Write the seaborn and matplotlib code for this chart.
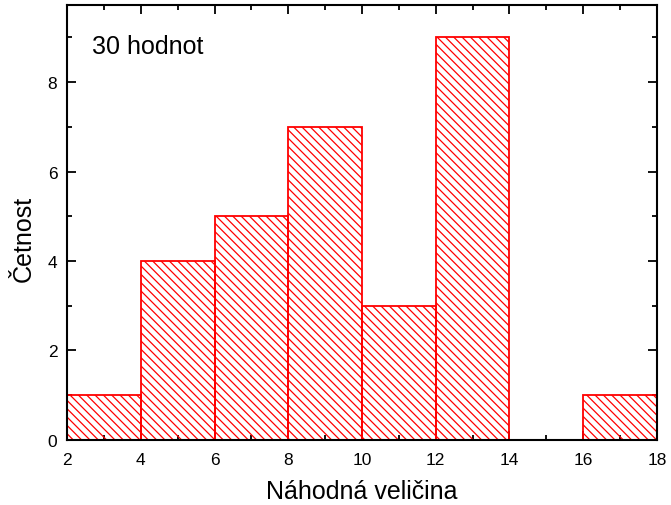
import numpy as np
import matplotlib
matplotlib.use("Agg")
import matplotlib.pyplot as plt
import seaborn as sns
from matplotlib.ticker import MultipleLocator

bin_edges = [2, 4, 6, 8, 10, 12, 14, 16, 18]
bin_centers = [3, 5, 7, 9, 11, 13, 15, 17]
counts = [1, 4, 5, 7, 3, 9, 0, 1]

sns.set_style("ticks")
plt.rcParams["font.family"] = ["Liberation Sans", "DejaVu Sans"]
plt.rcParams["hatch.linewidth"] = 0.9
plt.rcParams["hatch.color"] = "red"
plt.rcParams["text.color"] = "black"
plt.rcParams["axes.labelcolor"] = "black"

fig = plt.figure(figsize=(6.71, 5.06), dpi=100)
ax = fig.add_axes([0.0999, 0.1285, 0.8792, 0.8595])

sns.histplot(x=bin_centers, weights=counts, bins=bin_edges, ax=ax,
             facecolor="none", edgecolor="red", linewidth=1.3,
             hatch="\\\\\\\\")

ax.set_xlim(2, 18)
ax.set_ylim(0, 9.72)
ax.xaxis.set_major_locator(MultipleLocator(2))
ax.xaxis.set_minor_locator(MultipleLocator(1))
ax.yaxis.set_major_locator(MultipleLocator(2))
ax.yaxis.set_minor_locator(MultipleLocator(1))
ax.tick_params(which="both", direction="in", top=True, right=True,
               width=1.3, labelsize=12.5, colors="black")
ax.tick_params(which="major", length=6.5)
ax.tick_params(which="minor", length=3.3)
ax.tick_params(axis="x", which="major", pad=9)
ax.tick_params(axis="y", which="major", pad=7)
for s in ax.spines.values():
    s.set_linewidth(1.5)
    s.set_color("black")

ax.set_xlabel("Náhodná veličina", fontsize=18, labelpad=8)
ax.set_ylabel("Četnost", fontsize=18)
ax.yaxis.set_label_coords(-0.053, 0.465)
ax.text(0.043, 0.89, "30 hodnot", transform=ax.transAxes, fontsize=18)

fig.savefig("out.png", dpi=100)
